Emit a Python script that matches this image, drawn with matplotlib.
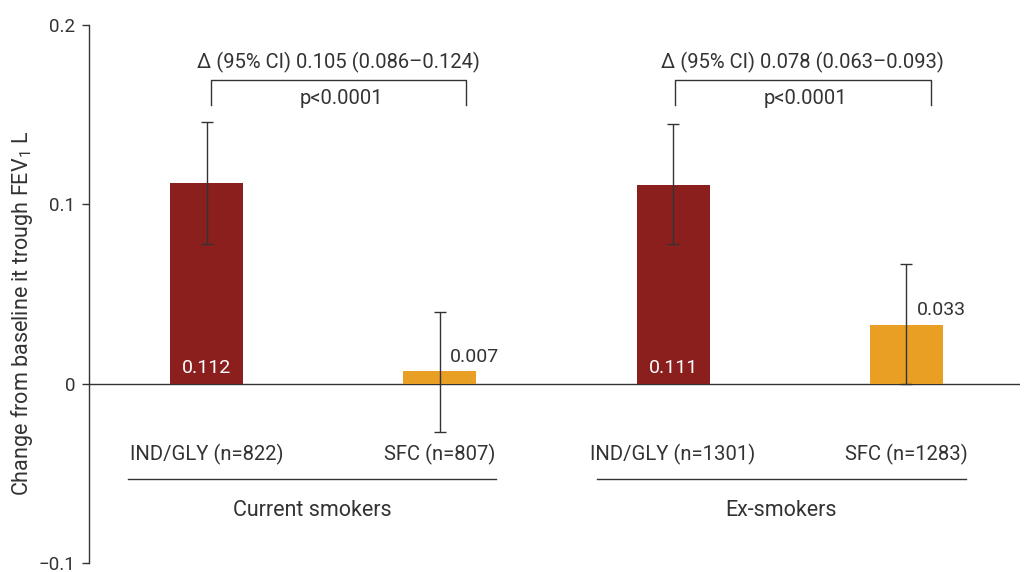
import matplotlib
matplotlib.use("Agg")
import matplotlib.pyplot as plt

plt.rcParams['font.family'] = ['Roboto', 'DejaVu Sans']
plt.rcParams['mathtext.fontset'] = 'custom'
plt.rcParams['mathtext.rm'] = 'Roboto'
plt.rcParams['mathtext.it'] = 'Roboto'

# Data
bar_labels = ["IND/GLY (n=822)", "SFC (n=807)", "IND/GLY (n=1301)", "SFC (n=1283)"]
values = [0.112, 0.007, 0.111, 0.033]
value_texts = ["0.112", "0.007", "0.111", "0.033"]
ci_low = [0.078, -0.027, 0.078, 0.000]
ci_high = [0.146, 0.040, 0.145, 0.067]
groups = ["Current smokers", "Ex-smokers"]
delta_texts = ["\u0394 (95% CI) 0.105 (0.086\u20130.124)", "\u0394 (95% CI) 0.078 (0.063\u20130.093)"]
p_texts = ["p<0.0001", "p<0.0001"]
yticks = [-0.1, 0.0, 0.1, 0.2]
ytick_labels = ["\u22120.1", "0", "0.1", "0.2"]

RED = "#8a1f1d"
ORANGE = "#e89f24"
colors = [RED, ORANGE, RED, ORANGE]
TXT = "#333333"

fig = plt.figure(figsize=(10.25, 5.72), dpi=100)
ax = fig.add_axes([0.0868, 0.0157, 0.9082, 0.9403])

x = list(range(len(values)))
ax.bar(x, values, width=0.313, color=colors, zorder=2)
lower = [v - l for v, l in zip(values, ci_low)]
upper = [h - v for v, h in zip(values, ci_high)]
ax.errorbar(x, values, yerr=[lower, upper], fmt='none', ecolor='#333333',
            elinewidth=1.0, capsize=4, capthick=1.0, zorder=3)

ax.axhline(0, color=TXT, lw=1.0, zorder=1)

ax.set_xlim(-0.504, 3.487)
ax.set_ylim(-0.1, 0.2)
ax.set_yticks(yticks)
ax.set_yticklabels(ytick_labels)
ax.set_xticks([])
for s in ['top', 'right', 'bottom']:
    ax.spines[s].set_visible(False)
ax.spines['left'].set_color(TXT)
ax.spines['left'].set_linewidth(1.0)
ax.tick_params(axis='y', length=5, width=1.0, color=TXT, labelcolor=TXT,
               labelsize=13.5, pad=5)

ax.set_ylabel("Change from baseline it trough FEV$_1$ L", fontsize=15.5, color=TXT)
ax.yaxis.set_label_coords(-0.058, 0.465)

# value labels
for i, (v, t) in enumerate(zip(values, value_texts)):
    if v > 0.05:
        ax.text(i, 0.004, t, ha='center', va='bottom', color='white', fontsize=14, zorder=4)
    else:
        ax.text(i + 0.045, v + 0.003, t, ha='left', va='bottom', color=TXT, fontsize=14, zorder=4)

# category labels
for i, lab in enumerate(bar_labels):
    ax.text(i, -0.0396, lab, ha='center', va='center', color=TXT, fontsize=14.6)

# group lines and labels
group_spans = [(-0.336, 1.241), (1.674, 3.255)]
for (a, b), g in zip(group_spans, groups):
    ax.plot([a, b], [-0.053, -0.053], color=TXT, lw=1.0, clip_on=False)
    ax.text((a + b) / 2, -0.0705, g, ha='center', va='center', color=TXT, fontsize=15.5)

# brackets
brackets = [(0.02, 1.113), (2.008, 3.105)]
for (a, b), dt, pt in zip(brackets, delta_texts, p_texts):
    ax.plot([a, a, b, b], [0.1556, 0.1696, 0.1696, 0.1556], color=TXT, lw=1.0, clip_on=False)
    ax.text((a + b) / 2, 0.1790, dt, ha='center', va='center', color=TXT, fontsize=14.5)
    ax.text((a + b) / 2 + 0.01, 0.1590, pt, ha='center', va='center', color=TXT, fontsize=14.5)

fig.savefig("out.png", dpi=100)
